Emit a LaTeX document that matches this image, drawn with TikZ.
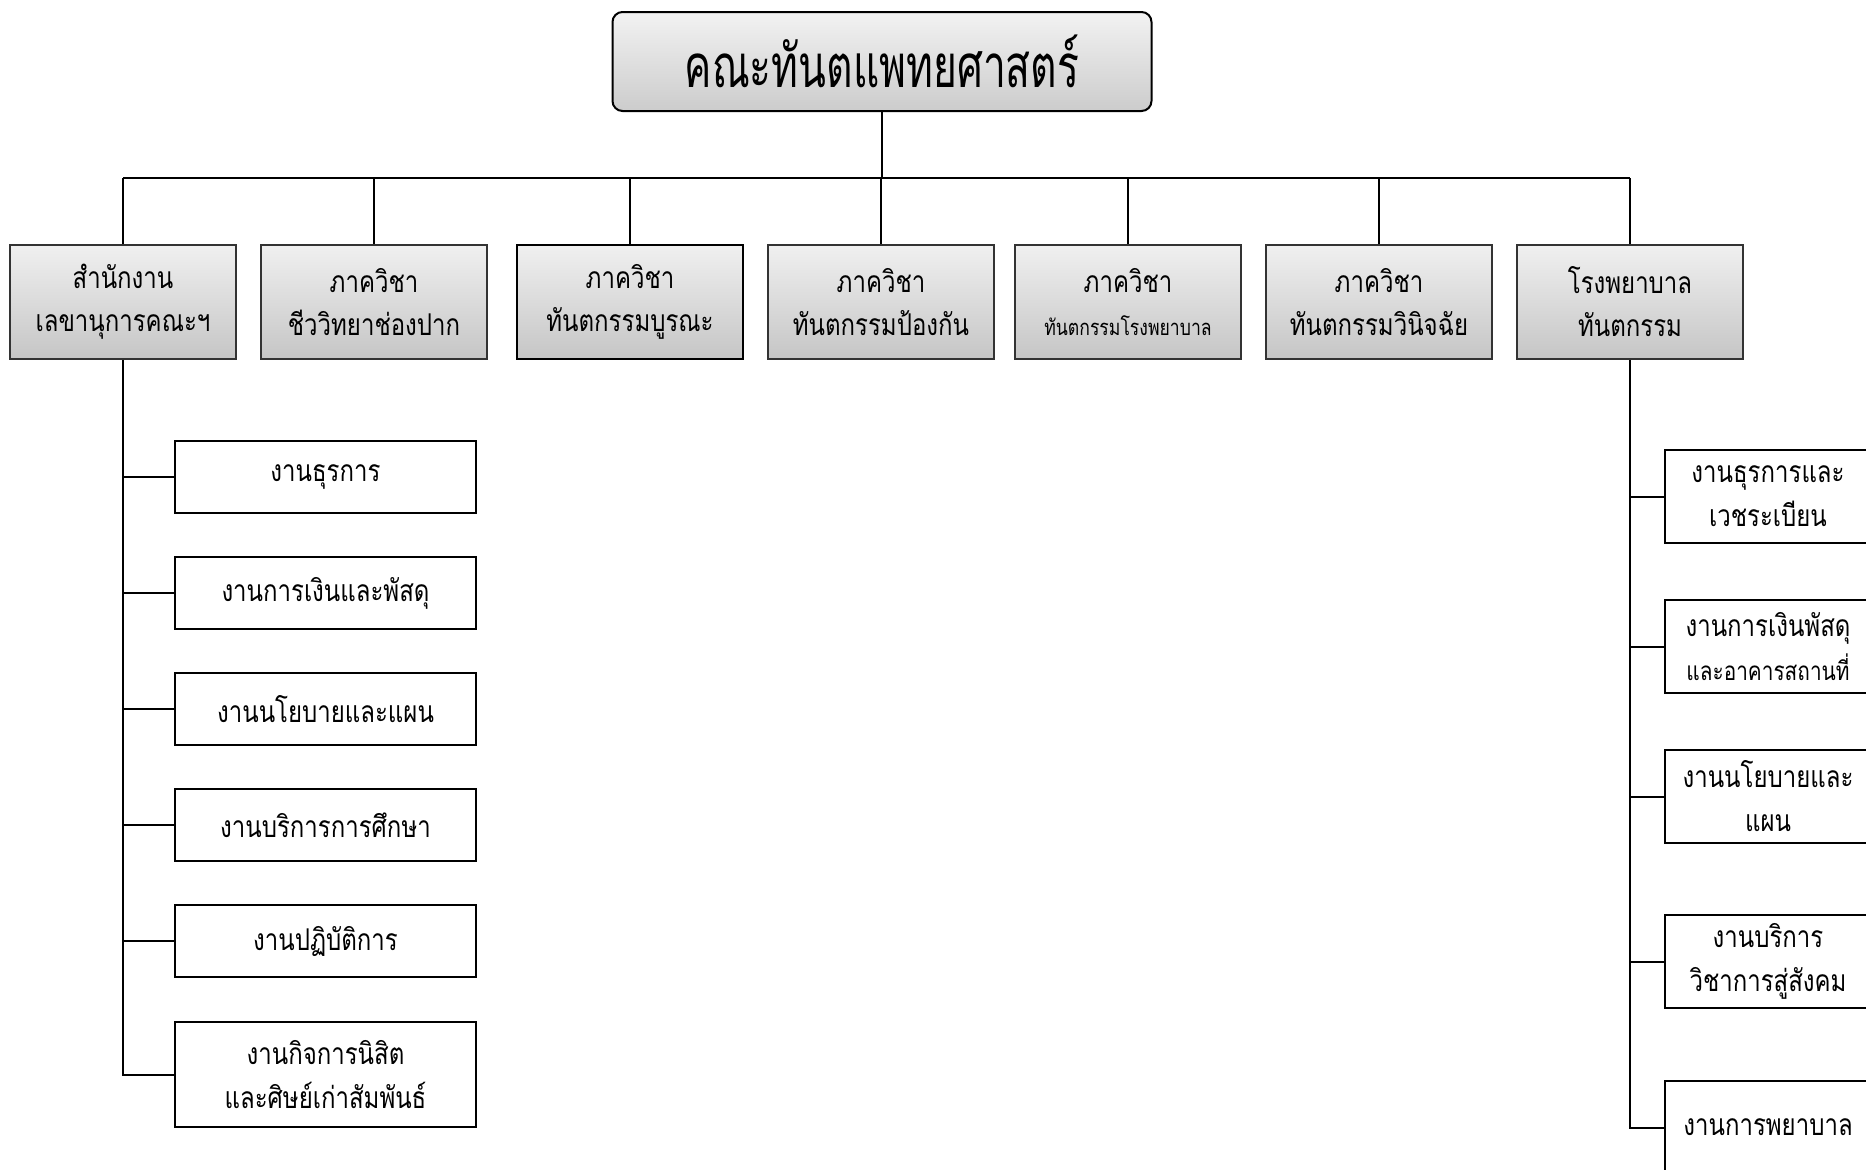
\documentclass[tikz,border=0pt]{standalone}
\usepackage{fontspec}
\newfontfamily\thaifont[Script=Thai,FakeStretch=0.8]{Loma}
\newfontfamily\titlefont[Script=Thai,FakeStretch=0.68]{Loma}
\usetikzlibrary{shapes.geometric, arrows}
\tikzstyle{title_block} = [rectangle, rounded corners=5pt, minimum width=269.5pt, minimum height=49.5pt, text centered, draw=black, line width=1pt, top color=gray!10, bottom color=gray!40, font=\titlefont\fontsize{30}{34}\selectfont]
\tikzstyle{gray_block} = [rectangle, minimum width=113pt, minimum height=57pt, align=center, draw=black!80, line width=1pt, top color=gray!12, bottom color=gray!45, font=\thaifont\fontsize{15}{21.5}\selectfont]
\tikzstyle{white_block} = [rectangle, minimum width=150.5pt, minimum height=36pt, align=center, draw=black, line width=1pt, fill=white, font=\thaifont\fontsize{15}{22}\selectfont]
\tikzstyle{side_block} = [white_block, minimum width=103pt, minimum height=46.5pt]
\tikzstyle{line} = [line width=1pt]
\begin{document}
\begin{tikzpicture}[x=0.5pt, y=-0.5pt, node distance=125.5pt]
		\useasboundingbox (0,0) rectangle (1866,1169);
		\node (top) [title_block] at (882,61.5) {คณะทันตแพทยศาสตร์};
		% departments
		\node (d1) [gray_block] at (123,302) {สำนักงาน\\เลขานุการคณะฯ};
		\node (d2) [gray_block, right of=d1] {ภาควิชา\\ชีววิทยาช่องปาก};
		\node (d3) [gray_block, right of=d2, xshift=2.5pt, line width=1.4pt, draw=black] {ภาควิชา\\ทันตกรรมบูรณะ};
		\node (d4) [gray_block, right of=d3] {ภาควิชา\\ทันตกรรมป้องกัน};
		\node (d5) [gray_block, right of=d4, xshift=-2pt] {ภาควิชา\\{\fontsize{11}{21.5}\selectfont ทันตกรรมโรงพยาบาล}};
		\node (d6) [gray_block, right of=d5] {ภาควิชา\\ทันตกรรมวินิจฉัย};
		\node (d7) [gray_block, right of=d6] {โรงพยาบาล\\ทันตกรรม};
		% office units
		\node (a1) [white_block] at (325.5,477) {งานธุรการ};
		\node (a2) [white_block, below of=a1, node distance=58pt] {งานการเงินและพัสดุ};
		\node (a3) [white_block, below of=a2, node distance=58pt] {งานนโยบายและแผน};
		\node (a4) [white_block, below of=a3, node distance=58pt] {งานบริการการศึกษา};
		\node (a5) [white_block, below of=a4, node distance=58pt] {งานปฏิบัติการ};
		\node (a6) [white_block, below of=a5, node distance=66.75pt, minimum height=52.5pt] {งานกิจการนิสิต\\และศิษย์เก่าสัมพันธ์};
		% hospital units
		\node (b1) [side_block] at (1768,496.5) {งานธุรการและ\\เวชระเบียน};
		\node (b2) [side_block, below of=b1, node distance=75pt] {งานการเงินพัสดุ\\{\fontsize{13}{22}\selectfont และอาคารสถานที่}};
		\node (b3) [side_block, below of=b2, node distance=75pt] {งานนโยบายและ\\แผน};
		\node (b4) [side_block, below of=b3, node distance=82.5pt] {งานบริการ\\วิชาการสู่สังคม};
		\node (b5) [side_block, below of=b4, node distance=83pt] {งานการพยาบาล};

		\coordinate (bus) at (0,178);
		\draw [line] (top.south) -- (top.south |- bus);
		\draw [line] (d1.north |- bus) -- (d7.north |- bus);
		\foreach \d in {d1,d2,d3,d4,d5,d6,d7}
			\draw [line] (\d.north) -- (\d.north |- bus);
		\draw [line] (d1.south) |- (a6.west);
		\foreach \a in {a1,a2,a3,a4,a5}
			\draw [line] (\a.west) -- (\a.west -| d1.south);
		\draw [line] (d7.south) |- (b5.west);
		\foreach \b in {b1,b2,b3,b4}
			\draw [line] (\b.west) -- (\b.west -| d7.south);
\end{tikzpicture}
\end{document}
